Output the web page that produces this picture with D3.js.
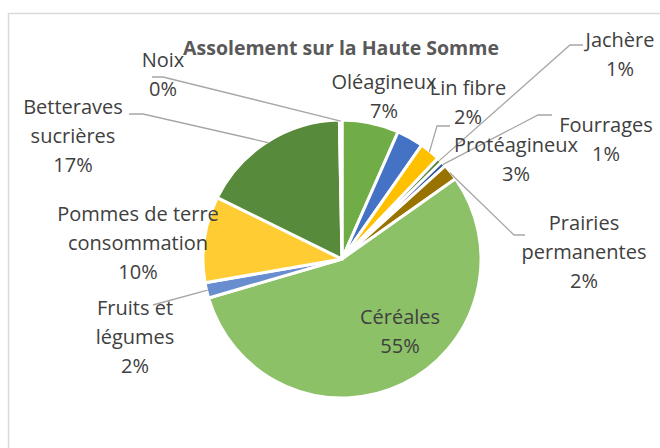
<!DOCTYPE html>
<html>
<head>
<meta charset="utf-8">
<script src="https://cdn.jsdelivr.net/npm/d3@7"></script>
<style>
  body { margin: 0; background: #ffffff; }
  svg { display: block; font-family: "Open Sans", sans-serif; }
</style>
</head>
<body>
<div id="chart"></div>
<script>
// share of each crop (percent), clockwise from 12 o'clock
const categories = ["Oléagineux", "Protéagineux", "Lin fibre", "Jachère", "Fourrages",
    "Prairies permanentes", "Céréales", "Fruits et légumes", "Pommes de terre consommation",
    "Betteraves sucrières", "Noix"];
const shares = [6.6, 3.1, 2.4, 0.6, 0.6, 1.9, 55.2, 1.8, 10.0, 17.4, 0.3];
const labelLines = [["Oléagineux"], ["Protéagineux"], ["Lin fibre"], ["Jachère"], ["Fourrages"],
    ["Prairies", "permanentes"], ["Céréales"], ["Fruits et", "légumes"],
    ["Pommes de terre", "consommation"], ["Betteraves", "sucrières"], ["Noix"]];
const title = "Assolement sur la Haute Somme";

const colors = ["#70AD47", "#4472C4", "#FFC000", "#548235", "#2F5597", "#997300",
    "#8CC168", "#698ED0", "#FFCD33", "#578A3B", "#2F5597"];

// hand placed label anchors (centre x, first baseline) and leader line starts
const labelPos = [
    {x: 384, y: 89},
    {x: 516, y: 152},
    {x: 468, y: 95, leader: [[450, 126], [437, 126]]},
    {x: 620, y: 47, leader: [[583, 45], [570, 45]]},
    {x: 606, y: 132, leader: [[552, 115], [538, 115]]},
    {x: 584, y: 230, leader: [[525, 235], [514, 235]]},
    {x: 400, y: 324},
    {x: 135, y: 315, leader: [[153, 305]]},
    {x: 138, y: 221},
    {x: 73, y: 114, leader: [[129, 114], [143, 114]]},
    {x: 163, y: 67, leader: [[152, 77], [163, 77]]}
];

const W = 660, H = 448;
const cx = 342, cy = 259, R = 139;
const LINE = 29;

const svg = d3.select("#chart").append("svg")
    .attr("width", W)
    .attr("height", H);

svg.append("rect")
    .attr("width", W).attr("height", H)
    .attr("fill", "#ffffff");

// chart frame (runs off the right and bottom edges)
svg.append("rect")
    .attr("x", 8.5).attr("y", 13.5)
    .attr("width", 720).attr("height", 520)
    .attr("fill", "none")
    .attr("stroke", "#d9d9d9")
    .attr("stroke-width", 1.5);

const total = d3.sum(shares);
const data = categories.map(function (c, i) {
    return {name: c, value: shares[i], i: i};
});

const pie = d3.pie().sort(null).value(function (d) { return d.value; });
const arcs = pie(data);

const arc = d3.arc().innerRadius(0).outerRadius(R);

const g = svg.append("g")
    .attr("transform", "translate(" + cx + "," + cy + ")");

g.selectAll("path.slice")
    .data(arcs)
    .enter().append("path")
    .attr("class", "slice")
    .attr("d", arc)
    .attr("fill", function (d) { return colors[d.data.i]; })
    .attr("stroke", "#ffffff")
    .attr("stroke-width", 3)
    .attr("stroke-linejoin", "round");

// leader lines: from label to the outer edge of the slice
const line = d3.line();
arcs.forEach(function (d) {
    const p = labelPos[d.data.i];
    if (!p.leader) return;
    const mid = (d.startAngle + d.endAngle) / 2;
    const end = [cx + (R - 1) * Math.sin(mid), cy - (R - 1) * Math.cos(mid)];
    svg.append("path")
        .attr("d", line(p.leader.concat([end])))
        .attr("fill", "none")
        .attr("stroke", "#a6a6a6")
        .attr("stroke-width", 1.3);
});

// data labels
const pct = d3.format(".0%");
arcs.forEach(function (d) {
    const p = labelPos[d.data.i];
    const lines = labelLines[d.data.i].concat([pct(d.data.value / total)]);
    const t = svg.append("text")
        .attr("text-anchor", "middle")
        .attr("font-size", 20)
        .attr("fill", "#404040");
    lines.forEach(function (s, k) {
        t.append("tspan")
            .attr("x", p.x)
            .attr("y", p.y + k * LINE)
            .text(s);
    });
});

svg.append("text")
    .attr("x", 341)
    .attr("y", 55)
    .attr("text-anchor", "middle")
    .attr("font-size", 19.5)
    .attr("font-weight", "bold")
    .attr("fill", "#595959")
    .text(title);
</script>
</body>
</html>
